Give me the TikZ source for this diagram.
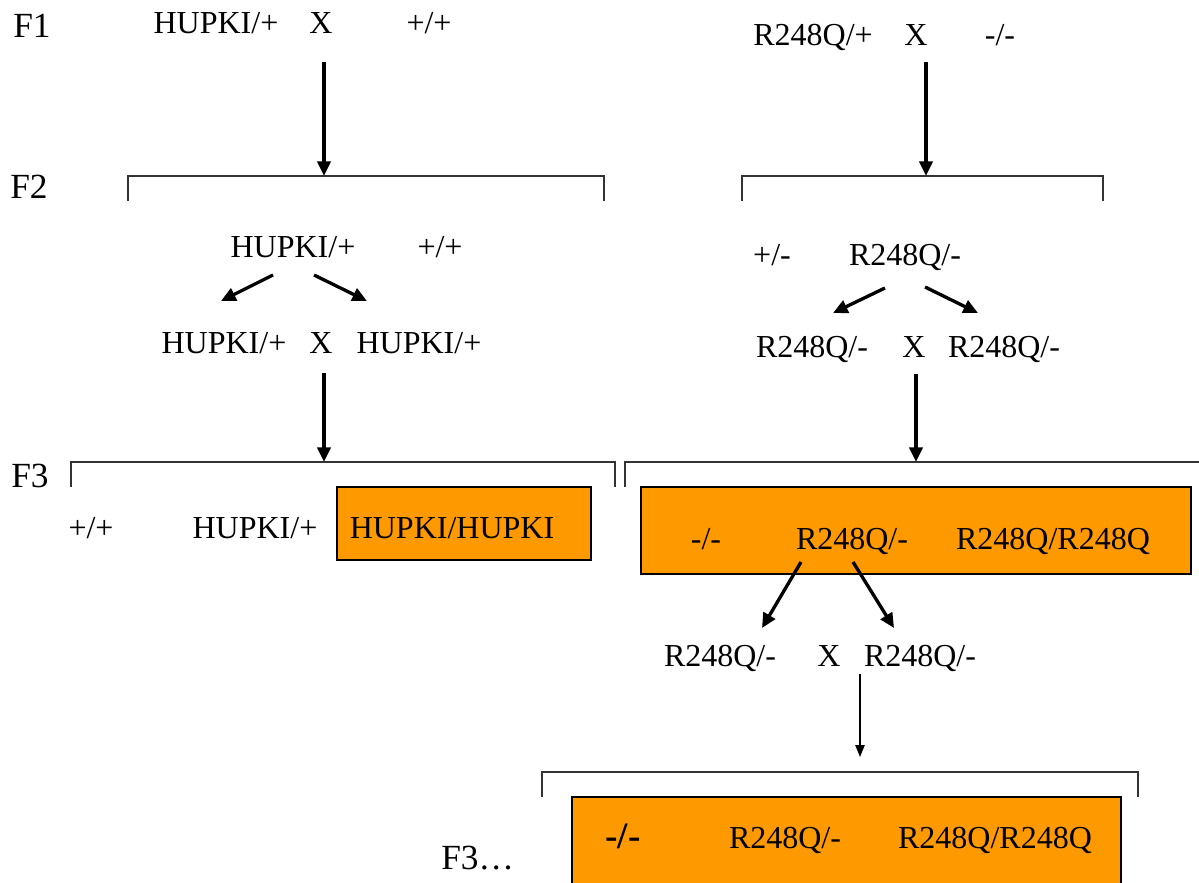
\documentclass[tikz,border=0pt]{standalone}
\usepackage{fontspec}
\setmainfont{Liberation Serif}
\usetikzlibrary{arrows.meta}
\definecolor{litterorange}{HTML}{FF9900}
\begin{document}
\begin{tikzpicture}[x=0.75pt,y=-0.75pt,
  geno/.style={inner sep=0pt, anchor=base, font=\fontsize{24}{28}\selectfont},
  genlabel/.style={inner sep=0pt, anchor=base west, font=\fontsize{26.5}{30}\selectfont},
  bracketline/.style={draw=black!80, line width=0.8pt},
  mate/.style={line width=2.5pt, -{Triangle[length=11pt,width=10pt]}},
  matethin/.style={line width=1.1pt, -{Triangle[length=9pt,width=7pt]}},
  litterbox/.style={draw=black, line width=1.6pt, fill=litterorange}
]
\useasboundingbox (0,0) rectangle (1199,882);
\clip (0,0) rectangle (1199,882);

% generation labels
\node[genlabel] (f1) at (13,37) {F1};
\node[genlabel] (f2) at (10,198) {F2};
\node[genlabel] (f3) at (11,487) {F3};
\node[genlabel] (f3more) at (441,869) {F3\ldots};

% ---------- HUPKI line ----------
\node[geno] (h1a) at (216,33) {HUPKI/+};
\node[geno] (h1x) at (321,33) {X};
\node[geno] (h1b) at (429,33) {+/+};

\coordinate (h1s) at (324,62);
\coordinate (h2top) at (324,176);
\draw[bracketline] (128,201) -- (128,176) -- (604,176) -- (604,201);
\draw[mate] (h1s) -- (h2top);

\node[geno] (h2a) at (293,257) {HUPKI/+};
\node[geno] (h2b) at (440,257) {+/+};

\coordinate (h2l0) at (273,275); \coordinate (h2l1) at (221,301);
\coordinate (h2r0) at (314,275); \coordinate (h2r1) at (367,301);
\draw[mate] (h2l0) -- (h2l1);
\draw[mate] (h2r0) -- (h2r1);

\node[geno] (h3a) at (224,353) {HUPKI/+};
\node[geno] (h3x) at (321,353) {X};
\node[geno] (h3b) at (419,353) {HUPKI/+};

\coordinate (h3s) at (324,373);
\coordinate (h4top) at (324,462);
\draw[bracketline] (71,487) -- (71,462) -- (615,462) -- (615,487);
\draw[mate] (h3s) -- (h4top);

\draw[litterbox] (337,487) rectangle (591,560);
\node[geno] (h4a) at (91,538) {+/+};
\node[geno] (h4b) at (255,538) {HUPKI/+};
\node[geno] (h4c) at (452,538) {HUPKI/HUPKI};

% ---------- R248Q line ----------
\node[geno] (r1a) at (813,45) {R248Q/+};
\node[geno] (r1x) at (916,45) {X};
\node[geno] (r1b) at (1000,45) {-/-};

\coordinate (r1s) at (926,62);
\coordinate (r2top) at (926,176);
\draw[bracketline] (742,201) -- (742,176) -- (1103,176) -- (1103,201);
\draw[mate] (r1s) -- (r2top);

\node[geno] (r2a) at (772,265) {+/-};
\node[geno] (r2b) at (905,265) {R248Q/-};

\coordinate (r2l0) at (885,288); \coordinate (r2l1) at (833,313);
\coordinate (r2r0) at (925,287); \coordinate (r2r1) at (978,313);
\draw[mate] (r2l0) -- (r2l1);
\draw[mate] (r2r0) -- (r2r1);

\node[geno] (r3a) at (812,357) {R248Q/-};
\node[geno] (r3x) at (914,357) {X};
\node[geno] (r3b) at (1004,357) {R248Q/-};

\coordinate (r3s) at (916,374);
\coordinate (r4top) at (916,462);
\draw[bracketline] (625,487) -- (625,462) -- (1205,462);
\draw[mate] (r3s) -- (r4top);

\draw[litterbox] (641,487) rectangle (1191,574);
\node[geno] (r4a) at (706,549) {-/-};
\node[geno] (r4b) at (852,549) {R248Q/-};
\node[geno] (r4c) at (1053,549) {R248Q/R248Q};

\coordinate (r4l0) at (801,562); \coordinate (r4l1) at (762,628);
\coordinate (r4r0) at (853,562); \coordinate (r4r1) at (894,628);
\draw[mate] (r4l0) -- (r4l1);
\draw[mate] (r4r0) -- (r4r1);

\node[geno] (r5a) at (720,666) {R248Q/-};
\node[geno] (r5x) at (829,666) {X};
\node[geno] (r5b) at (920,666) {R248Q/-};

\coordinate (r5s) at (860,674);
\coordinate (r6top) at (860,757);
\draw[matethin] (r5s) -- (r6top);
\draw[bracketline] (542,797) -- (542,772) -- (1138,772) -- (1138,797);

\draw[litterbox] (572,797) rectangle (1121,900);
\node[geno, font=\fontsize{28}{32}\selectfont\bfseries] (r6a) at (623,848) {-/-};
\node[geno] (r6b) at (785,848) {R248Q/-};
\node[geno] (r6c) at (995,848) {R248Q/R248Q};
\end{tikzpicture}
\end{document}
